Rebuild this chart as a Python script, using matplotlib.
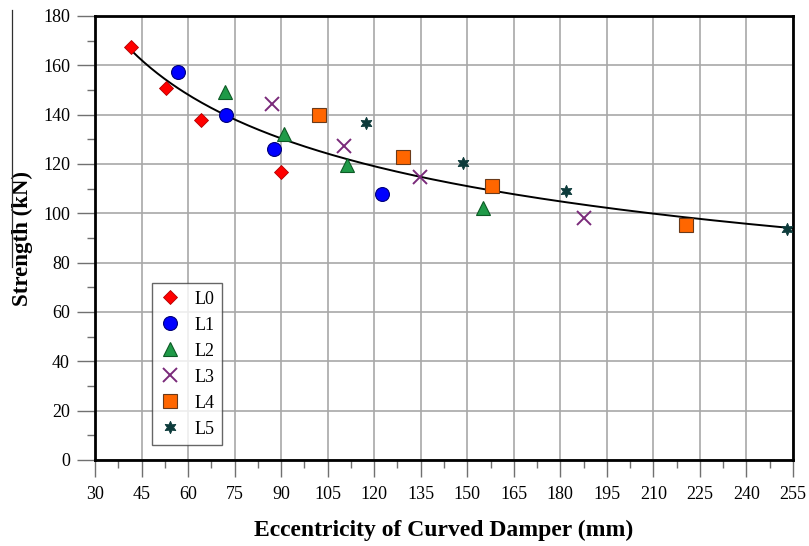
import numpy as np
import matplotlib
matplotlib.use("Agg")
import matplotlib.pyplot as plt
from matplotlib.ticker import MultipleLocator
from matplotlib.lines import Line2D

plt.rcParams['font.family'] = ['Liberation Serif', 'DejaVu Serif']

# Data
series_names = ["L0", "L1", "L2", "L3", "L4", "L5"]
L0_x = [41.6, 52.9, 64.2, 90.0]
L0_y = [167.4, 150.8, 137.8, 116.7]
L1_x = [56.8, 72.2, 87.7, 122.5]
L1_y = [157.3, 139.8, 126.1, 108.0]
L2_x = [71.9, 90.9, 111.2, 155.1]
L2_y = [149.2, 132.1, 119.6, 102.1]
L3_x = [87.1, 110.3, 134.8, 187.6]
L3_y = [144.3, 127.3, 114.7, 98.1]
L4_x = [102.2, 129.3, 158.0, 220.5]
L4_y = [139.8, 122.8, 111.1, 95.3]
L5_x = [117.4, 148.6, 181.8, 253.1]
L5_y = [136.6, 120.4, 109.0, 93.6]

xs = [L0_x, L1_x, L2_x, L3_x, L4_x, L5_x]
ys = [L0_y, L1_y, L2_y, L3_y, L4_y, L5_y]

# Power-law trend parameters (y = a * x^b)
trend_a = 536.8
trend_b = -0.3145

styles = [
    dict(marker='D', ms=7.5, mfc='#ff0000', mec='#b00000', mew=0.6),
    dict(marker='o', ms=10, mfc='#0000ff', mec='#00007a', mew=0.8),
    dict(marker='^', ms=9.5, mfc='#1f9a48', mec='#0d5a25', mew=0.8),
    dict(marker='x', ms=9.5, mfc='none', mec='#7a2a7a', mew=1.4),
    dict(marker='s', ms=9.5, mfc='#ff6600', mec='#6a3a1a', mew=0.8),
    dict(marker=(6, 1, 0), ms=9, mfc='#0d3b3b', mec='#0d3b3b', mew=0.6),
]

fig = plt.figure(figsize=(8.09, 5.46), dpi=100)
ax = fig.add_axes([95/809, 1-460/546, (793-95)/809, (460-16)/546])

all_x = np.concatenate([np.array(v) for v in xs])
xc = np.linspace(all_x.min(), 255, 300)
ax.plot(xc, trend_a * xc ** trend_b, color='black', lw=1.4, zorder=3)

for name, x, y, st in zip(series_names, xs, ys, styles):
    ax.plot(x, y, linestyle='none', label=name, zorder=4, **st)

ax.set_xlim(30, 255)
ax.set_ylim(0, 180)
ax.xaxis.set_major_locator(MultipleLocator(15))
ax.xaxis.set_minor_locator(MultipleLocator(7.5))
ax.yaxis.set_major_locator(MultipleLocator(20))
ax.yaxis.set_minor_locator(MultipleLocator(10))
ax.grid(True, which='major', color='#a8a8a8', lw=1.2, zorder=0)
ax.set_axisbelow(True)
ax.tick_params(axis='x', which='major', direction='out', length=12.5, width=1.0,
               color='#707070', labelsize=13, pad=6)
ax.tick_params(axis='y', which='major', direction='out', length=13, width=1.0,
               color='#707070', labelsize=13, pad=5)
ax.tick_params(which='minor', direction='out', length=6, width=1.0, color='#707070')
for s in ax.spines.values():
    s.set_linewidth(2.0)
    s.set_color('black')

ax.set_xlabel('Eccentricity of Curved Damper (mm)', fontsize=17, fontweight='bold')
ax.xaxis.set_label_coords(0.5, -(530 - 460) / 444)
ax.xaxis.label.set_va('center')
ax.set_ylabel('Strength (kN)', fontsize=16.5, fontweight='bold')
ax.yaxis.set_label_coords(-(95 - 22) / 698, 0.5)
ax.yaxis.label.set_va('center')

# thin vertical rule at the far left of the figure
fig.add_artist(Line2D([12/809, 12/809], [1-10/546, 1-267/546], transform=fig.transFigure,
                      color='#303030', lw=0.9))

leg = ax.legend(loc='lower left', bbox_to_anchor=((152-95)/698, (460-445)/444),
                frameon=True, fancybox=False, fontsize=13, handletextpad=0.75,
                labelspacing=0.5, borderpad=0.4, handlelength=1.2, borderaxespad=0)
leg.get_frame().set_edgecolor('#404040')
leg.get_frame().set_linewidth(1.0)

fig.savefig('out.png', dpi=100)
